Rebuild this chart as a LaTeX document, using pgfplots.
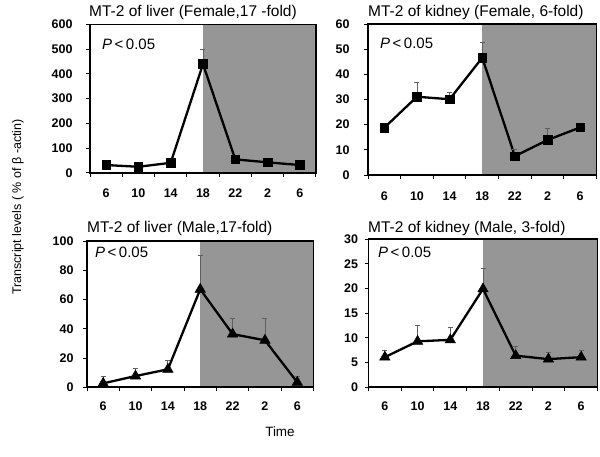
\documentclass[border=0pt]{standalone}
\usepackage{fontspec}
\setmainfont{Liberation Sans}
\usepackage{pgfplots}
\pgfplotsset{compat=1.18}
\definecolor{night}{RGB}{150,150,150}
\definecolor{errgray}{RGB}{95,95,95}

\pgfplotstableread{
x y e
1 31 0
2 24 0
3 40 0
4 440 60
5 54 0
6 42 0
7 31 0
}\femliver
\pgfplotstableread{
x y e
1 18.8 0
2 31.1 5.7
3 30.1 2.7
4 46.6 6.0
5 7.5 2.7
6 13.9 4.6
7 18.9 0
}\femkidney
\pgfplotstableread{
x y e
1 2.7 4.8
2 7.7 5.3
3 12.3 5.9
4 67 23
5 36.4 10.8
6 32.1 15.1
7 3.4 3.9
}\maleliver
\pgfplotstableread{
x y e
1 6.1 1.4
2 9.3 3.3
3 9.6 2.5
4 19.9 4.1
5 6.4 1.9
6 5.7 1.3
7 6.1 1.3
}\malekidney

\pgfplotsset{
  mt/.style={
    scale only axis, axis on top,
    xmin=0.5, xmax=7.5,
    xtick={1,...,7}, xticklabels={6,10,14,18,22,2,6},
    minor xtick={0.5,1.5,...,7.5},
    major x tick style={draw=none},
    xtick pos=bottom, ytick pos=left,
    tick align=outside, major tick length=4pt, minor tick length=4pt,
    tick style={black, line width=1pt},
    axis line style={black, line width=1.8pt},
    ticklabel style={font=\fontsize{12.5}{14}\selectfont\bfseries},
    /pgf/number format/assume math mode=true,
    ymin=0,
  },
  mtline/.style={
    black, line width=2.3pt,
    error bars/y dir=plus, error bars/y explicit,
    error bars/error bar style={errgray, line width=0.8pt},
    error bars/error mark options={errgray, rotate=90, mark size=2.5pt, line width=0.8pt},
  },
}

\begin{document}
\begin{tikzpicture}
\useasboundingbox (0pt,0pt) rectangle (600pt,456pt);

% ---- top left: female liver
\begin{axis}[mt, at={(90pt,283.3pt)}, anchor=south west, width=226pt, height=148.2pt,
  ymax=600, ytick={0,100,...,600},
  yticklabel style={xshift=-10pt}, xticklabel style={yshift=-9pt}]
\fill[night] (axis cs:4,0) rectangle (axis cs:7.5,600);
\addplot[mtline, mark=square*, mark size=4.3pt, mark options={solid, fill=black, line width=0.5pt}]
  table[x=x, y=y, y error=e] {\femliver};
\end{axis}

% ---- top right: female kidney
\begin{axis}[mt, at={(368pt,281pt)}, anchor=south west, width=228.5pt, height=151pt,
  ymax=60, ytick={0,10,...,60},
  yticklabel style={xshift=-11pt}, xticklabel style={yshift=-9pt}]
\fill[night] (axis cs:4,0) rectangle (axis cs:7.5,60);
\addplot[mtline, mark=square*, mark size=4.3pt, mark options={solid, fill=black, line width=0.5pt}]
  table[x=x, y=y, y error=e] {\femkidney};
\end{axis}

% ---- bottom left: male liver
\begin{axis}[mt, at={(87pt,68.7pt)}, anchor=south west, width=226.5pt, height=146.3pt,
  ymax=100, ytick={0,20,...,100},
  yticklabel style={xshift=-6pt}, xticklabel style={yshift=-7pt}]
\fill[night] (axis cs:4,0) rectangle (axis cs:7.5,100);
\addplot[mtline, mark=triangle*, mark size=6pt, mark options={solid, fill=black, line width=0.5pt}]
  table[x=x, y=y, y error=e] {\maleliver};
\end{axis}

% ---- bottom right: male kidney
\begin{axis}[mt, at={(368.5pt,68.7pt)}, anchor=south west, width=229pt, height=148.3pt,
  ymax=30, ytick={0,5,...,30},
  yticklabel style={xshift=-3pt}, xticklabel style={yshift=-7pt}]
\fill[night] (axis cs:4,0) rectangle (axis cs:7.5,30);
\addplot[mtline, mark=triangle*, mark size=6pt, mark options={solid, fill=black, line width=0.5pt}]
  table[x=x, y=y, y error=e] {\malekidney};
\end{axis}

% titles
\begin{scope}[every node/.style={font=\fontsize{15.5}{18}\selectfont, inner sep=0pt, anchor=west}]
\node at (89pt,444pt) {MT-2 of liver (Female,17 -fold)};
\node at (368pt,444pt) {MT-2 of kidney (Female, 6-fold)};
\node at (87pt,228pt) {MT-2 of liver (Male,17-fold)};
\node at (368pt,228pt) {MT-2 of kidney (Male, 3-fold)};
\end{scope}
\begin{scope}[every node/.style={font=\fontsize{15}{17}\selectfont, inner sep=0pt, anchor=west}]
\node at (102pt,412pt) {\textit{P}\,<\,0.05};
\node at (380pt,413pt) {\textit{P}\,<\,0.05};
\node at (95pt,204pt) {\textit{P}\,<\,0.05};
\node at (378pt,204pt) {\textit{P}\,<\,0.05};
\end{scope}
\node[font=\fontsize{12.5}{14}\selectfont, rotate=90, inner sep=0pt] at (18pt,249pt) {Transcript levels ( \% of β -actin)};
\node[font=\fontsize{13.5}{15}\selectfont, inner sep=0pt] at (280pt,24pt) {Time};
\end{tikzpicture}
\end{document}
